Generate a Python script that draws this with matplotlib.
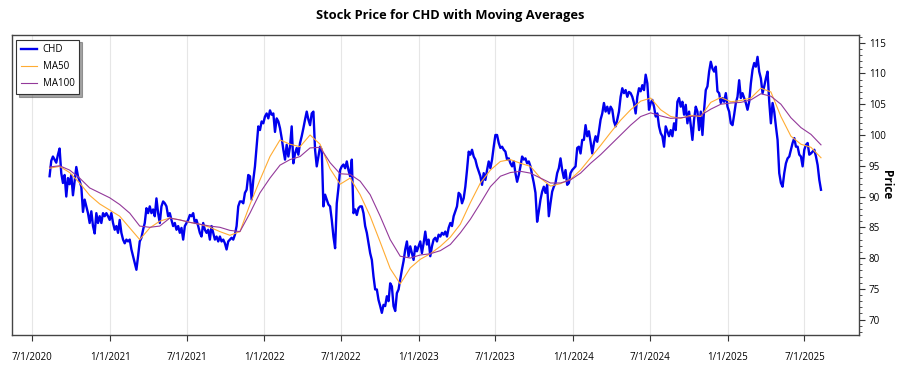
import numpy as np
import pandas as pd
import matplotlib
matplotlib.use("Agg")
import matplotlib.pyplot as plt
from matplotlib.ticker import MultipleLocator

plt.rcParams['font.family'] = ['Open Sans', 'DejaVu Sans']

# Closing prices, evenly spaced in time (~4 calendar days)
price_2020_21 = [
    93.3, 95.8, 96.5, 96.0, 95.5, 96.8, 97.8, 93.8, 92.2, 93.5, 90.0, 93.0, 92.0, 93.5, 90.2, 92.5,
    94.8, 93.3, 92.5, 91.6, 87.5, 89.5, 88.4, 87.3, 85.7, 87.6, 85.2, 84.0, 87.3, 85.7, 86.8, 85.7,
    87.3, 86.8, 87.3, 86.8, 86.2, 87.3, 85.7, 84.6, 85.2, 84.1, 86.2, 84.1, 83.0, 82.4, 83.0, 82.7,
    83.0, 81.4, 80.3, 79.2, 78.1, 80.3, 82.7, 83.3, 84.6, 85.7, 88.1, 87.3, 88.4, 87.3, 87.9, 86.8,
    89.7, 87.3, 85.7, 88.4, 89.2, 88.9, 88.4, 86.8, 87.3, 86.2, 85.2, 85.7, 84.6, 85.2, 84.1, 84.9,
    83.0, 85.2, 85.7, 86.2, 87.0, 86.8, 87.3, 85.7, 86.2, 85.2, 84.1, 83.5, 85.7, 84.6, 84.1, 84.6,
    83.0, 85.2, 84.1, 83.0, 83.5, 82.7, 83.5, 82.7, 83.0, 82.4, 81.4, 82.7, 83.0, 83.3, 83.0, 83.8,
    85.2, 88.4, 89.2,
]
price_2021_23 = [
    89.2, 88.9, 90.6, 91.1, 93.5, 93.3, 89.5, 92.7, 94.9, 98.1, 101.4, 100.8, 102.2, 101.9, 103.0,
    103.5, 102.7, 104.0, 103.3, 103.5, 100.5, 102.7, 102.2, 101.1, 99.5, 97.6, 96.0, 98.4, 96.5,
    98.1, 101.4, 95.4, 97.0, 97.9, 96.8, 98.7, 99.8, 101.1, 102.5, 103.8, 102.5, 101.6, 103.5,
    103.8, 97.6, 94.9, 96.5, 98.1, 97.6, 88.4, 90.3, 89.5, 88.7, 88.4, 86.2, 83.5, 81.6, 88.9,
    91.4, 94.3, 94.9, 95.2, 94.6, 95.7, 94.3, 93.3, 96.0, 87.3, 87.9, 87.0, 88.1, 88.4, 88.4,
    87.3, 85.2, 84.1, 82.4, 80.8, 79.7, 77.0, 74.9, 74.9, 73.2, 72.2, 71.1, 72.4, 72.2, 73.8,
    73.0, 75.9, 75.4, 72.2, 71.4, 74.3, 74.9, 76.5, 78.1, 79.5, 81.4, 82.7, 80.3, 81.9, 80.8,
    79.7, 81.9, 81.1, 81.9, 82.7, 80.8, 82.4, 84.3, 82.2, 83.0, 80.3, 81.9, 83.0,
]
price_2023_24 = [
    83.3, 82.7, 83.8, 83.5, 84.1, 83.8, 84.3, 83.5, 84.9, 85.7, 85.2, 86.8, 87.6, 88.4, 90.6,
    90.3, 88.9, 89.7, 91.6, 94.3, 97.3, 96.8, 97.6, 96.5, 96.0, 94.9, 94.1, 93.3, 91.9, 93.8,
    92.7, 94.3, 95.7, 94.6, 96.0, 98.1, 100.0, 100.0, 98.7, 97.9, 98.1, 97.6, 97.3, 96.0, 96.2,
    95.4, 94.9, 95.7, 93.8, 92.4, 93.5, 94.9, 96.5, 96.0, 96.2, 95.4, 95.7, 94.9, 93.5, 92.2,
    90.6, 85.9, 87.6, 89.5, 90.8, 91.6, 90.6, 91.9, 86.8, 88.9, 90.8, 91.6, 92.2, 93.8, 94.6,
    96.2, 94.3, 93.0, 94.3, 91.9, 92.2, 93.8, 94.3, 94.6, 94.9, 97.9, 98.1, 97.0, 99.2, 99.2,
    101.6, 99.8, 100.6, 98.9, 97.0, 98.7, 99.8, 98.9, 100.6, 102.5, 103.5, 105.2, 103.8, 104.6,
    103.5, 104.6, 104.1, 102.2, 101.4, 102.5, 103.8, 106.2, 107.6, 106.8, 107.3, 106.2, 107.0,
    106.8,
]
price_2024_25 = [
    106.2, 105.2, 103.5, 106.2, 107.6, 107.1, 108.1, 107.3, 109.8, 108.4, 104.1, 105.2, 105.7,
    104.6, 103.0, 103.5, 101.4, 100.3, 99.8, 98.1, 101.4, 100.6, 99.8, 100.8, 99.8, 101.9, 100.8,
    105.4, 106.0, 104.6, 105.4, 103.3, 104.9, 101.9, 103.8, 101.6, 99.2, 102.5, 104.6, 103.8,
    100.8, 103.8, 100.0, 104.1, 107.3, 107.9, 110.3, 111.9, 110.8, 110.3, 111.1, 107.1, 106.8,
    105.2, 106.0, 105.4, 106.8, 104.6, 103.8, 101.9, 101.6, 103.3, 105.2, 106.2, 108.9, 106.0,
    106.8, 106.0, 105.2, 104.1, 105.4, 108.4, 110.6, 111.7, 111.1, 112.7, 110.3, 109.2, 106.8,
    107.9, 109.2, 110.3, 105.4, 101.9, 105.2, 103.8, 101.4, 99.2, 93.8, 92.2, 91.6, 93.8, 95.4,
    96.2, 96.5, 97.6, 98.7, 99.5, 98.1, 98.1, 96.8, 96.5, 94.9, 97.6, 98.4, 98.7, 96.8, 97.0,
    97.3, 97.6, 96.5, 95.1, 92.7, 91.1,
]

# Moving averages at every 6th price sample
ma50_vals = [
    94.6, 94.9, 93.9, 92.2, 90.2, 88.8, 87.8, 86.8, 84.9, 83.0, 84.9, 86.0, 86.5, 86.2, 85.8, 85.5,
    85.0, 84.3, 83.7, 84.3, 88.7, 92.7, 96.5, 99.2, 98.5, 98.1, 100.0, 98.5, 94.5, 92.0, 93.0, 90.3,
    86.8, 82.6, 78.3, 75.8, 78.4, 79.8, 80.7, 81.9, 83.4, 85.5, 89.0, 92.2, 94.3, 95.7, 96.0, 95.4,
    94.9, 93.0, 91.7, 92.1, 92.8, 94.3, 96.3, 98.3, 100.4, 102.4, 104.1, 105.5, 106.0, 104.1, 103.0,
    102.7, 103.2, 103.0, 105.3, 106.1, 105.4, 105.6, 106.0, 107.6, 107.0, 103.0, 99.8, 98.5, 98.0,
    96.3,
]
ma100_vals = [
    94.8, 95.0, 94.3, 93.0, 91.4, 90.6, 89.8, 88.7, 87.3, 85.2, 85.0, 85.2, 86.5, 86.2, 85.8, 85.5,
    85.2, 85.0, 84.5, 84.3, 87.3, 90.6, 93.0, 95.1, 96.0, 96.5, 97.9, 98.0, 95.5, 93.7, 93.6, 92.5,
    90.3, 86.8, 83.0, 80.3, 80.0, 80.5, 80.7, 81.2, 82.2, 84.1, 86.3, 88.9, 91.6, 93.3, 93.9, 94.1,
    93.8, 93.0, 92.2, 92.2, 92.7, 93.8, 95.4, 96.8, 98.4, 100.0, 101.6, 103.0, 103.6, 103.1, 102.7,
    102.8, 103.0, 103.2, 104.2, 105.0, 105.2, 105.3, 105.7, 106.7, 106.3, 105.0, 102.8, 101.2, 100.1,
    98.4,
]

start_date = "2020-08-11"
end_date = "2025-08-09"
tick_dates = pd.date_range("2020-07-01", "2025-07-01", freq="6MS")

price = np.array(price_2020_21 + price_2021_23 + price_2023_24 + price_2024_25)
dates = pd.date_range(start_date, end_date, periods=len(price))
ma_dates = dates[::6]

fig = plt.figure(figsize=(9, 3.75), dpi=100)
ax = fig.add_axes([0.0128, 0.1067, 0.9417, 0.8008])

ax.plot(dates, price, color="#0000ee", lw=1.7, label="CHD", zorder=3)
ax.plot(ma_dates, ma50_vals, color="#ffac33", lw=0.8, label="MA50", zorder=4)
ax.plot(ma_dates, ma100_vals, color="#93399a", lw=0.8, label="MA100", zorder=4)

ax.set_xlim(pd.Timestamp("2020-05-13"), pd.Timestamp("2025-11-07"))
ax.set_ylim(67.5, 116.3)

ax.set_xticks(tick_dates)
ax.set_xticklabels([f"{d.month}/{d.day}/{d.year}" for d in tick_dates], fontsize=7)
ax.tick_params(axis="x", length=4, pad=8, color="#333333")
ax.grid(axis="x", color="#e6e6e6", lw=0.8)
ax.grid(axis="y", visible=False)

ax.yaxis.tick_right()
ax.yaxis.set_label_position("right")
ax.yaxis.set_major_locator(MultipleLocator(5))
ax.yaxis.set_minor_locator(MultipleLocator(1))
ax.tick_params(axis="y", which="major", length=4, labelsize=7, pad=3, color="#333333")
ax.tick_params(axis="y", which="minor", length=2, color="#333333")
ax.set_ylabel("Price", rotation=270, fontsize=8.5, fontweight="bold", labelpad=5)

for sp in ax.spines.values():
    sp.set_color("#444444")
    sp.set_linewidth(1.0)

fig.suptitle("Stock Price for CHD with Moving Averages", fontsize=9.3, fontweight="bold", y=0.975)

leg = ax.legend(loc="upper left", fontsize=7, frameon=True, fancybox=False, shadow=True,
                edgecolor="#333333", borderpad=0.5, handlelength=1.6, handletextpad=0.6,
                labelspacing=0.6, borderaxespad=0.5)
leg.get_frame().set_linewidth(0.8)

fig.savefig("out.png", dpi=100)
